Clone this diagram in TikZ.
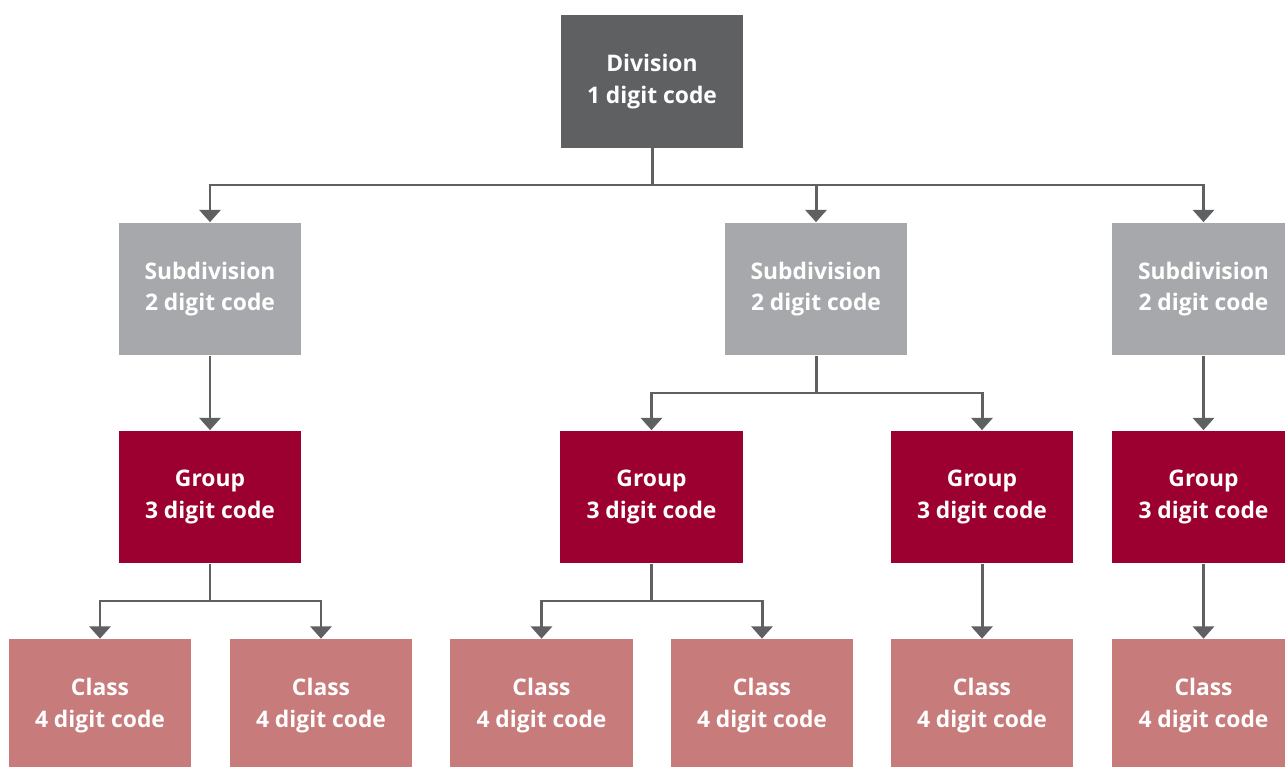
\documentclass[tikz,border=0pt]{standalone}
\usepackage{fontspec}
\setmainfont{Open Sans}
\usetikzlibrary{arrows.meta}
\definecolor{divcolor}{HTML}{5F6062}
\definecolor{subcolor}{HTML}{A7A8AB}
\definecolor{grpcolor}{HTML}{9B0030}
\definecolor{clscolor}{HTML}{C77B7B}

\begin{document}
\begin{tikzpicture}
            [x=0.02cm, y=-0.02cm,
            box/.style={minimum width=3.66cm, minimum height=2.66cm, inner sep=0pt,
              align=center, text=white, font=\bfseries\fontsize{13}{18}\selectfont},
            link/.style={draw=divcolor, line width=1.7pt, -{Triangle[width=12pt,length=7pt]}},
            bus/.style={draw=divcolor, line width=1.7pt},
            ]
            \useasboundingbox (0,0) rectangle (1285,767);
            \clip (0,0) rectangle (1285,767);

            % top level
            \node[box, fill=divcolor] (div) at (652,81.5) {Division\\1 digit code};

            % subdivisions
            \node[box, fill=subcolor] (sub1) at (210,289) {Subdivision\\2 digit code};
            \node[box, fill=subcolor] (sub2) at (816,289) {Subdivision\\2 digit code};
            \node[box, fill=subcolor] (sub3) at (1203.5,289) {Subdivision\\2 digit code};

            % groups
            \node[box, fill=grpcolor] (grp1) at (210,497) {Group\\3 digit code};
            \node[box, fill=grpcolor] (grp2) at (651.5,497) {Group\\3 digit code};
            \node[box, fill=grpcolor] (grp3) at (982,497) {Group\\3 digit code};
            \node[box, fill=grpcolor] (grp4) at (1203.5,497) {Group\\3 digit code};

            % classes
            \node[box, fill=clscolor] (cls1) at (100,705.5) {Class\\4 digit code};
            \node[box, fill=clscolor] (cls2) at (321,705.5) {Class\\4 digit code};
            \node[box, fill=clscolor] (cls3) at (541.5,705.5) {Class\\4 digit code};
            \node[box, fill=clscolor] (cls4) at (762,705.5) {Class\\4 digit code};
            \node[box, fill=clscolor] (cls5) at (982,705.5) {Class\\4 digit code};
            \node[box, fill=clscolor] (cls6) at (1203.5,705.5) {Class\\4 digit code};

            % bus lines
            \coordinate (b1) at (652,185);
            \coordinate (b2) at (816,393);
            \coordinate (b3) at (210,601);
            \coordinate (b4) at (651.5,601);

            \draw[bus] (div.south) -- (b1);
            \draw[link] (b1) -| (sub1.north);
            \draw[link] (b1) -| (sub2.north);
            \draw[link] (b1) -| (sub3.north);

            \draw[link] (sub1) -- (grp1);
            \draw[bus] (sub2.south) -- (b2);
            \draw[link] (b2) -| (grp2.north);
            \draw[link] (b2) -| (grp3.north);
            \draw[link] (sub3) -- (grp4);

            \draw[bus] (grp1.south) -- (b3);
            \draw[link] (b3) -| (cls1.north);
            \draw[link] (b3) -| (cls2.north);
            \draw[bus] (grp2.south) -- (b4);
            \draw[link] (b4) -| (cls3.north);
            \draw[link] (b4) -| (cls4.north);
            \draw[link] (grp3) -- (cls5);
            \draw[link] (grp4) -- (cls6);
        \end{tikzpicture}
\end{document}
